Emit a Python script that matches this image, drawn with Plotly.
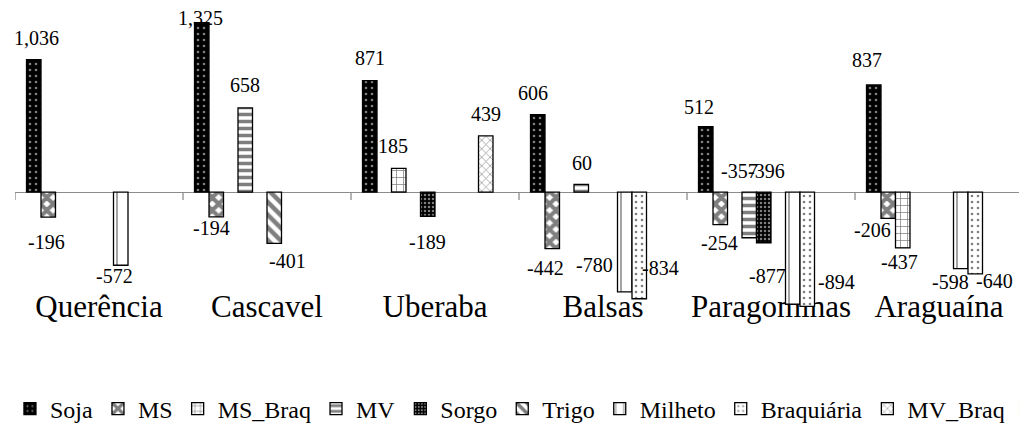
import plotly.graph_objects as go

# ---------------- data ----------------
categories = ["Querência", "Cascavel", "Uberaba", "Balsas", "Paragominas", "Araguaína"]
series_names = ["Soja", "MS", "MS_Braq", "MV", "Sorgo", "Trigo", "Milheto", "Braquiária", "MV_Braq", ""]

soja = [1036, 1325, 871, 606, 512, 837]
ms = [-196, -194, None, -442, -254, -206]
ms_braq = [None, None, 185, None, None, -437]
mv = [None, 658, None, 60, -357, None]
sorgo = [None, None, -189, None, -396, None]
trigo = [None, -401, None, None, None, None]
milheto = [-572, None, None, -780, -877, -598]
braquiaria = [None, None, None, -834, -894, -640]
mv_braq = [None, None, 439, None, None, None]
outro = [None, None, None, None, None, None]

series_values = [soja, ms, ms_braq, mv, sorgo, trigo, milheto, braquiaria, mv_braq, outro]

# ---------------- styles ----------------
SERIF = "Liberation Serif"
BARGAP = 0.137

patterns = [
    dict(shape=".", fgcolor="white", bgcolor="black", size=6, solidity=0.15),   # Soja
    dict(shape="x", fgcolor="black", bgcolor="white", size=9, solidity=0.7),    # MS
    dict(shape="+", fgcolor="black", bgcolor="white", size=7, solidity=0.2),    # MS_Braq
    dict(shape="-", fgcolor="black", bgcolor="white", size=7, solidity=0.5),    # MV
    dict(shape=".", fgcolor="white", bgcolor="black", size=4, solidity=0.3),    # Sorgo
    dict(shape="\\", fgcolor="black", bgcolor="white", size=9, solidity=0.5),   # Trigo
    dict(shape="|", fgcolor="black", bgcolor="white", size=12, solidity=0.12),  # Milheto
    dict(shape=".", fgcolor="black", bgcolor="white", size=6, solidity=0.15),   # Braquiária
    dict(shape="x", fgcolor="black", bgcolor="white", size=6, solidity=0.2),    # MV_Braq
    None,                                                                        # orange
]
base_colors = ["black", "white", "white", "white", "black", "white", "white", "white", "white", "#FFCF87"]
legend_of = ["legend"] * 9 + ["legend2"]

# label offsets (dx px right, dy px down) relative to bar end; 'base' => relative to zero line
LABEL_OFFSETS = {
    (0, 0): (3, -22), (0, 1): (-2, 25), (0, 6): (-6, 11),
    (1, 0): (-1, -5), (1, 1): (-5, 11), (1, 3): (0, -23), (1, 5): (13, 18),
    (2, 0): (0, -23), (2, 2): (-6, -22), (2, 4): (0, 26), (2, 8): (0, -22),
    (3, 0): (-5, -22), (3, 1): (-7, 19), (3, 3): (1, -21), (3, 6): (-30, -27), (3, 7): (21, -31),
    (4, 0): (-7, -20), (4, 1): (-1, 18), (4, 3): (-10, -21, "base"), (4, 4): (3, -21, "base"),
    (4, 6): (-25, -28), (4, 7): (29, -24),
    (5, 0): (-7, -25), (5, 1): (-16, 12), (5, 2): (-3, 14), (5, 6): (-10, 13), (5, 7): (19, 7),
}

x_idx = list(range(len(categories)))
n_series = len(series_values)
slot = (1 - BARGAP) / n_series

fig = go.Figure()
for s, (name, vals) in enumerate(zip(series_names, series_values)):
    marker = dict(color=base_colors[s], line=dict(color="black", width=1.3))
    if patterns[s] is not None:
        marker["pattern"] = patterns[s]
    else:
        marker["line"] = dict(color=base_colors[s], width=0)
    fig.add_trace(go.Bar(x=x_idx, y=vals, name=name, marker=marker, hoverinfo="skip",
                         legend=legend_of[s]))

annotations = []
for s, vals in enumerate(series_values):
    for i, v in enumerate(vals):
        if v is None:
            continue
        off = LABEL_OFFSETS.get((i, s), (0, -22) if v >= 0 else (0, 14))
        dx, dy = off[0], off[1]
        yv = 0 if (len(off) > 2 and off[2] == "base") else v
        annotations.append(dict(
            x=i + (s - (n_series - 1) / 2) * slot, y=yv, xref="x", yref="y",
            text=f"{v:,}", showarrow=False, xshift=dx, yshift=-dy,
            font=dict(family=SERIF, size=20, color="black"),
        ))

shapes = []
for k in range(len(categories) + 1):
    shapes.append(dict(type="line", xref="x", yref="y", ysizemode="pixel", yanchor=0,
                       x0=k - 0.5, x1=k - 0.5, y0=0, y1=-8,
                       line=dict(color="#8C8C8C", width=1.3)))

legend_font = dict(family=SERIF, size=24, color="black")

# the page body adds an 8px offset, so the plot area is placed 8px up/left
fig.update_layout(
    width=1027, height=423,
    margin=dict(l=7, r=12, t=5, b=105, autoexpand=False),
    paper_bgcolor="white", plot_bgcolor="white",
    barmode="group", bargap=BARGAP, bargroupgap=0,
    font=dict(family=SERIF, color="black"),
    xaxis=dict(range=[-0.5, len(categories) - 0.5], tickvals=x_idx, ticktext=categories,
               showgrid=False, zeroline=False, showline=False, ticks="",
               ticklabelposition="inside", layer="below traces",
               tickfont=dict(family=SERIF, size=31, color="black")),
    yaxis=dict(range=[-1047, 1400], showgrid=False, showticklabels=False, ticks="",
               zeroline=True, zerolinecolor="#8C8C8C", zerolinewidth=1.3, showline=False),
    legend=dict(orientation="h", x=-0.005, xanchor="left", y=-0.265,
                yanchor="middle", font=legend_font,
                traceorder="normal", bgcolor="rgba(0,0,0,0)"),
    legend2=dict(orientation="h", x=0.982, xanchor="left", y=-0.265,
                 yanchor="middle", font=legend_font, bgcolor="rgba(0,0,0,0)"),
    annotations=annotations,
    shapes=shapes,
    showlegend=True,
)

fig.write_html("out.html")
